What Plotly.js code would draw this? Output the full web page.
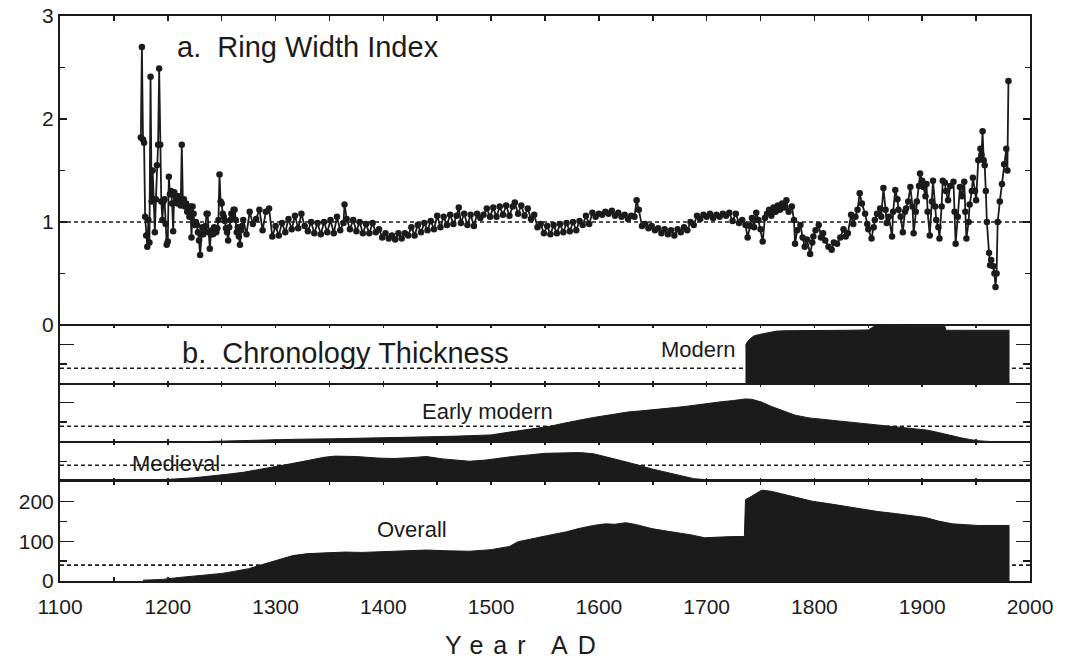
<!DOCTYPE html>
<html>
<head>
<meta charset="utf-8">
<script src="https://cdn.plot.ly/plotly-3.0.1.min.js"></script>
<style>
  html, body { margin: 0; padding: 0; background: #ffffff; }
  #chart { width: 1065px; height: 662px; }
</style>
</head>
<body>
<div id="chart"></div>
<script>
// ---------------- a. Ring width index ----------------
const rwYears = [
  1175,1176,1177,1178,1179,1180,1181,1182,1183,1184,1185,1186,1187,1188,1189,1190,1191,1192,1193,1194,
  1195,1196,1197,1198,1199,1200,1201,1202,1203,1204,1205,1206,1207,1208,1209,1210,1211,1212,1213,1214,
  1215,1216,1217,1218,1219,1220,1221,1222,1223,1224,1225,1226,1227,1228,1229,1230,1231,1232,1233,1234,
  1235,1236,1237,1238,1239,1240,1241,1242,1243,1244,1245,1246,1247,1248,1249,1250,1251,1252,1253,1254,
  1255,1256,1257,1258,1259,1260,1261,1262,1263,1264,1265,1266,1267,1268,1269,
  1270,1273,1276,1279,1282,1285,1288,1291,1294,1297,1300,1303,1306,1309,1312,1315,1318,1321,1324,1327,
  1330,1333,1336,1339,1342,1345,1348,1351,1354,1357,1360,1363,1364,1366,1369,1372,1375,1378,1381,1384,
  1387,1390,1393,1396,1399,1402,1405,1408,1411,1414,1417,1420,1423,1426,1429,1432,1435,1438,1441,1444,
  1447,1450,1453,1456,1459,1462,1465,1468,1470,1472,1475,1478,1481,1484,1487,1490,1493,1496,1499,1502,
  1505,1508,1511,1514,1517,1520,1522,1525,1528,1531,1534,1537,1540,1543,1546,1549,1552,1555,1558,1561,
  1564,1567,1570,1573,1576,1579,1582,1585,1588,1591,1594,1597,1600,1603,1606,1609,1612,1615,1618,1621,
  1624,1627,1630,1633,1635,1637,1640,1643,1646,1649,1652,1655,1658,1661,1664,1667,1670,1673,1676,1679,
  1682,1685,1688,1691,1694,1697,1700,1703,1706,1709,1712,1715,1718,1721,1724,1727,1730,1733,1736,1738,
  1740,1742,1744,1746,1748,1750,1752,1754,1756,1758,1760,1762,1764,1766,1768,1770,1772,1774,1776,1779,
  1781,1782,1784,1787,1789,1791,1793,1796,1798,1799,1801,1804,1806,1808,1810,1813,1816,1818,1821,1824,
  1827,1829,1831,1834,1836,1838,1840,1842,1844,1847,1849,1850,1853,1855,1856,1858,1861,1862,1864,1866,
  1867,1869,1872,1873,1875,1877,1878,1880,1882,1884,1885,1887,1889,1891,1892,1894,1895,1897,1898,1900,
  1901,1903,1904,1905,1907,1909,1910,1912,1913,1915,1916,1918,1919,1921,1922,1924,1926,1929,1930,1931,
  1933,1935,1937,1939,1940,1941,1943,1944,1946,1947,1949,1950,1952,1954,1955,1956,1957,1958,1959,1960,
  1962,1963,1964,1966,1967,1968,1969,1970,1972,1974,1976,1978,1979,1980
];
const rwValues = [
  1.82,2.70,1.80,1.77,1.05,0.87,0.76,1.02,0.80,2.41,1.20,1.50,1.22,0.90,1.22,1.55,1.75,2.49,1.75,1.20,
  1.02,1.20,1.22,0.98,0.78,0.81,1.44,1.27,1.30,1.18,0.91,1.29,1.25,1.22,1.18,1.25,1.20,1.16,1.75,1.20,
  1.22,1.15,1.18,1.10,1.12,1.05,1.15,0.85,1.15,1.08,0.97,1.00,0.97,0.90,0.82,0.68,0.88,0.95,0.88,0.92,
  0.96,1.08,1.08,0.90,0.74,0.88,0.92,0.88,0.95,0.92,0.90,0.94,1.02,1.46,1.20,1.18,1.08,1.05,1.01,0.94,
  0.90,0.82,0.95,1.02,1.08,1.05,1.12,1.12,1.02,0.90,0.95,0.86,0.78,0.92,0.96,
  1.02,0.88,1.10,0.98,1.03,1.12,0.92,1.10,1.13,0.86,0.96,0.87,0.99,0.90,1.03,0.93,1.06,0.94,1.08,0.96,
  0.91,1.00,0.89,0.99,0.88,1.00,0.90,1.02,0.89,1.05,0.92,0.99,1.17,1.03,0.93,1.02,0.91,1.00,0.89,0.98,
  0.89,0.99,0.90,0.93,0.85,0.89,0.84,0.87,0.83,0.89,0.84,0.89,0.87,0.95,0.87,0.97,0.90,0.99,0.92,1.01,
  0.93,1.06,0.95,1.05,0.97,1.07,0.98,1.06,1.14,0.99,1.08,0.97,1.07,0.96,1.08,1.04,1.07,1.13,1.05,1.14,
  1.05,1.15,1.07,1.16,1.06,1.15,1.19,1.08,1.16,1.06,1.13,1.03,1.07,0.95,0.98,0.89,0.96,0.88,0.97,0.89,
  0.98,0.90,0.99,0.91,1.00,0.92,1.01,0.97,1.06,0.98,1.09,1.05,1.08,1.07,1.10,1.08,1.11,1.06,1.09,1.05,
  1.07,1.03,1.06,1.05,1.21,1.12,0.96,0.98,0.94,0.96,0.92,0.94,0.89,0.93,0.88,0.92,0.87,0.93,0.90,0.95,
  0.92,1.00,0.97,1.06,1.03,1.07,1.05,1.08,1.04,1.07,1.05,1.08,1.06,1.09,1.01,1.08,0.99,1.02,0.97,0.85,
  0.96,1.04,0.95,1.09,1.02,0.93,0.81,1.04,1.08,1.12,1.06,1.14,1.10,1.16,1.12,1.18,1.14,1.21,1.10,1.15,
  1.02,0.79,0.92,0.97,0.85,0.76,0.83,0.69,0.80,0.86,0.92,0.97,0.85,0.89,0.82,0.76,0.73,0.80,0.79,0.85,
  0.93,0.86,0.89,1.07,0.98,1.05,1.12,1.28,1.18,1.08,0.98,0.93,0.84,0.95,1.02,1.08,1.13,1.05,1.33,1.12,
  0.99,1.05,0.86,1.10,1.31,1.22,1.12,1.05,0.90,1.10,1.13,1.20,1.34,1.15,0.89,1.10,1.20,1.35,1.47,1.40,
  1.34,1.25,1.37,1.10,0.87,1.20,1.40,1.15,1.02,0.95,0.84,1.15,1.40,1.38,1.30,1.21,1.35,1.39,1.10,0.79,
  1.05,1.34,1.25,1.39,1.10,0.84,1.00,1.17,1.30,1.43,1.30,1.21,1.60,1.71,1.65,1.88,1.60,1.55,1.30,1.00,
  0.70,0.58,0.63,0.57,0.50,0.37,0.50,1.00,1.20,1.37,1.56,1.71,1.50,2.37
];

// ---------------- b. Chronology thickness ----------------
const modernYears  = [1736,1738,1741,1744,1748,1752,1756,1760,1765,1775,1790,1810,1830,1850,1856,1870,1885,1895,1905,1921,1922,1940,1960,1981];
const modernValues = [97,108,116,122,125,127,129,131,134,135,135,136,136,137,147,147,146,147,146,146,136,136,136,136];

const earlyYears  = [1218,1230,1260,1286,1320,1350,1378,1400,1440,1470,1500,1517,1530,1545,1555,1565,1576,1585,1595,1605,1615,1627,1640,1658,1670,1680,1690,1700,1714,1725,1736,1742,1751,1760,1770,1782,1795,1813,1830,1844,1860,1875,1890,1905,1915,1925,1937,1945,1952,1965,1983];
const earlyValues = [0,1,3,5,7,8,9,10,13,15,18,25,30,36,40,46,51,57,62,66,71,76,79,83,87,90,94,97,102,105,109,108,101,90,80,68,61,56,51,47,43,39,35,30,24,17,10,6,3,1,0];

const medievalYears  = [1177,1200,1224,1240,1255,1270,1285,1301,1315,1332,1345,1355,1375,1395,1410,1425,1440,1455,1471,1480,1495,1508,1520,1535,1550,1565,1582,1595,1607,1620,1637,1650,1669,1688,1705,1730];
const medievalValues = [2,4,8,12,17,22,29,36,44,53,60,63,62,58,57,59,62,56,51,50,53,58,62,66,70,71,72,69,60,52,40,30,18,6,2,0];

const overallYears  = [1177,1195,1211,1225,1236,1250,1261,1275,1286,1300,1316,1330,1348,1365,1380,1400,1420,1440,1460,1480,1500,1517,1525,1540,1555,1570,1581,1595,1606,1615,1625,1635,1649,1660,1674,1686,1698,1712,1724,1735,1736,1742,1751,1760,1773,1785,1798,1813,1828,1845,1859,1875,1890,1903,1915,1928,1940,1952,1981];
const overallValues = [2,4,9,12,15,19,24,31,40,52,64,69,71,73,72,74,75,78,76,75,79,87,99,108,116,124,132,140,144,143,147,142,132,127,122,116,109,111,112,112,205,214,229,226,218,210,201,195,188,181,175,170,165,160,151,144,142,140,140];

const xTickValues = [1100,1200,1300,1400,1500,1600,1700,1800,1900,2000];
const xMinorTickValues = [1150,1250,1350,1450,1550,1650,1750,1850,1950];
const overallTickValues = [0,100,200];
const ringTickValues = [0,1,2,3];
const thicknessThreshold = 40;

// ---------------- styling ----------------
const INK = '#1b1b1b';
const FONT = 'Liberation Sans, Arial, Helvetica, sans-serif';

const baseX = {
  range: [1100, 2000], showline: false, linewidth: 2, linecolor: INK,
  ticks: 'inside', tickcolor: INK, tickwidth: 1.5, showgrid: false, zeroline: false,
  fixedrange: true, showticklabels: false, dtick: 50, tick0: 1100, ticklen: 4
};
function xa(extra) { return Object.assign({}, baseX, extra); }

const baseY = {
  showline: true, linewidth: 2, linecolor: INK, ticks: 'inside', tickcolor: INK,
  tickwidth: 1.5, showgrid: false, zeroline: false, fixedrange: true,
  mirror: 'ticks', showticklabels: false
};
function ya(extra) { return Object.assign({}, baseY, extra); }
const minorThickness = {dtick: 50, tick0: 0, ticks: 'inside', ticklen: 7, tickcolor: INK, tickwidth: 1.5};

const domTop = [0.4531, 1.0];
const domModern = [0.3487, 0.4531];
const domEarly = [0.2460, 0.3487];
const domMedieval = [0.1770, 0.2460];
const domOverall = [0.0, 0.1770];

function areaTrace(xs, ys, xaxis, yaxis) {
  return {
    x: xs, y: ys, xaxis: xaxis, yaxis: yaxis, type: 'scatter', mode: 'lines',
    fill: 'tozeroy', fillcolor: INK, line: {color: INK, width: 1, shape: 'linear'},
    hoverinfo: 'skip'
  };
}

const traces = [
  {
    x: rwYears, y: rwValues, xaxis: 'x', yaxis: 'y', type: 'scatter', mode: 'lines+markers',
    line: {color: INK, width: 1.8}, marker: {color: INK, size: 6.5}, hoverinfo: 'skip'
  },
  areaTrace(modernYears, modernValues, 'x2', 'y2'),
  areaTrace(earlyYears, earlyValues, 'x3', 'y3'),
  areaTrace(medievalYears, medievalValues, 'x4', 'y4'),
  areaTrace(overallYears, overallValues, 'x5', 'y5')
];

function dotted(xref, yref, yv) {
  return {type: 'line', xref: xref, yref: yref, x0: 1100, x1: 2000, y0: yv, y1: yv,
          layer: 'below', line: {color: INK, width: 1.6, dash: '4px,3px'}};
}
function boundary(yp) {
  return {type: 'line', xref: 'paper', yref: 'paper', x0: 0, x1: 1, y0: yp, y1: yp,
          layer: 'above', line: {color: INK, width: 1.8}};
}

const layout = {
  width: 1065, height: 662,
  margin: {l: 60, r: 35, t: 16, b: 81, pad: 0},
  paper_bgcolor: '#ffffff', plot_bgcolor: 'rgba(0,0,0,0)',
  showlegend: false,
  font: {family: FONT, color: INK, size: 21},
  xaxis:  xa({anchor: 'y',  side: 'top', showline: true, mirror: false, ticklen: 5}),
  xaxis2: xa({anchor: 'y2', mirror: 'ticks', ticklen: 3}),
  xaxis3: xa({anchor: 'y3', mirror: 'ticks', ticklen: 3}),
  xaxis4: xa({anchor: 'y4', mirror: 'ticks', ticklen: 3}),
  xaxis5: xa({anchor: 'y5', showline: true, mirror: 'ticks', showticklabels: true, tickvals: xTickValues,
              ticklen: 4, ticklabelstandoff: 6,
              minor: {tickvals: xMinorTickValues, ticks: 'inside', ticklen: 4, tickcolor: INK, tickwidth: 1.5},
              tickfont: {size: 21, family: FONT, color: INK}}),
  yaxis:  ya({domain: domTop, anchor: 'x', range: [0, 3], tickvals: ringTickValues, showticklabels: true,
              ticklen: 7, minor: {dtick: 0.5, tick0: 0, ticks: 'inside', ticklen: 5, tickcolor: INK, tickwidth: 1.5},
              tickfont: {size: 21, family: FONT, color: INK}}),
  yaxis2: ya({domain: domModern, anchor: 'x2', range: [0, 149.4], dtick: 100, tick0: 0, ticklen: 14, minor: minorThickness}),
  yaxis3: ya({domain: domEarly, anchor: 'x3', range: [0, 146.8], dtick: 100, tick0: 0, ticklen: 14, minor: minorThickness}),
  yaxis4: ya({domain: domMedieval, anchor: 'x4', range: [0, 98.7], dtick: 100, tick0: 0, ticklen: 14, minor: minorThickness}),
  yaxis5: ya({domain: domOverall, anchor: 'x5', range: [0, 252], tickvals: overallTickValues, showticklabels: true,
              ticklen: 14, minor: minorThickness, tickfont: {size: 21, family: FONT, color: INK}}),
  shapes: [
    dotted('x', 'y', 1),
    dotted('x2', 'y2', thicknessThreshold),
    dotted('x3', 'y3', thicknessThreshold),
    dotted('x4', 'y4', thicknessThreshold),
    dotted('x5', 'y5', thicknessThreshold),
    boundary(domTop[0]),
    boundary(domModern[0]),
    boundary(domEarly[0]),
    boundary(domMedieval[0])
  ],
  annotations: [
    {text: 'a.\u00a0\u00a0Ring Width Index', xref: 'x', yref: 'y', x: 1207, y: 2.70,
     xanchor: 'left', yanchor: 'middle', showarrow: false, font: {size: 29, family: FONT, color: INK}},
    {text: 'b.\u00a0\u00a0Chronology Thickness', xref: 'x2', yref: 'y2', x: 1211, y: 78,
     xanchor: 'left', yanchor: 'middle', showarrow: false, font: {size: 29, family: FONT, color: INK}},
    {text: 'Modern', xref: 'x2', yref: 'y2', x: 1656, y: 88,
     xanchor: 'left', yanchor: 'middle', showarrow: false, font: {size: 22, family: FONT, color: INK}},
    {text: 'Early modern', xref: 'x3', yref: 'y3', x: 1434, y: 78,
     xanchor: 'left', yanchor: 'middle', showarrow: false, font: {size: 22, family: FONT, color: INK}},
    {text: 'Medieval', xref: 'x4', yref: 'y4', x: 1165, y: 45,
     xanchor: 'left', yanchor: 'middle', showarrow: false, font: {size: 22, family: FONT, color: INK}},
    {text: 'Overall', xref: 'x5', yref: 'y5', x: 1392, y: 129,
     xanchor: 'left', yanchor: 'middle', showarrow: false, font: {size: 22, family: FONT, color: INK}},
    {text: '<span style="letter-spacing:10px">Year AD</span>', xref: 'x5', yref: 'paper', x: 1532, y: -0.113,
     xanchor: 'center', yanchor: 'middle', showarrow: false, font: {size: 25, family: FONT, color: INK}}
  ]
};

Plotly.newPlot('chart', traces, layout, {staticPlot: true, displayModeBar: false});
</script>
</body>
</html>
